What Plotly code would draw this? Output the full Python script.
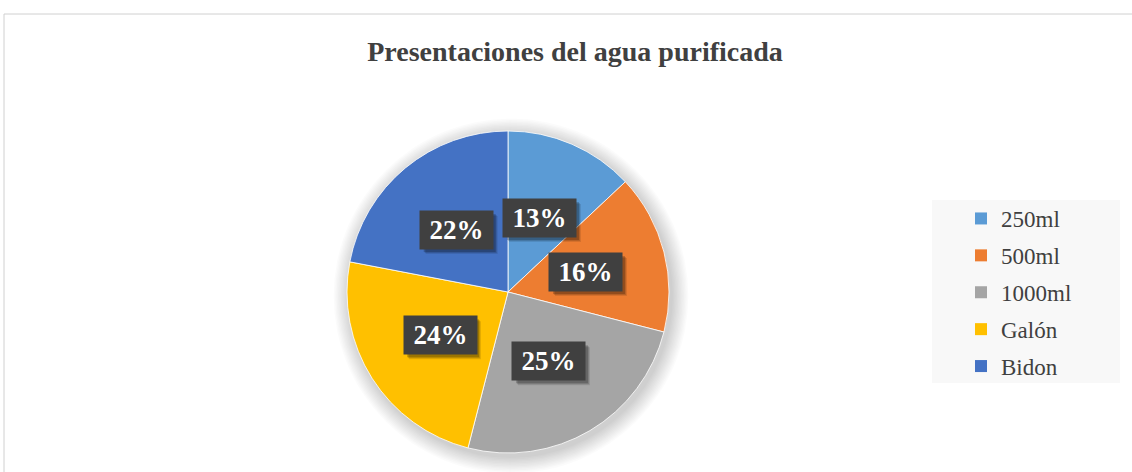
import math
import plotly.graph_objects as go

categories = ["250ml", "500ml", "1000ml", "Galón", "Bidon"]
values = [13, 16, 25, 24, 22]
colors = ["#5B9BD5", "#ED7D31", "#A5A5A5", "#FFC000", "#4472C4"]
title_text = "Presentaciones del agua purificada"

W, H = 1132, 472
CX, CY, R = 508, 292, 161  # pie centre / radius in pixels
SERIF = "Liberation Serif, Times New Roman, serif"
BOX_W, BOX_H = 72, 38       # label box size (style)

fig = go.Figure()
fig.add_trace(go.Pie(
    labels=categories, values=values, sort=False, direction="clockwise",
    rotation=0, textinfo="none", hoverinfo="label+percent", showlegend=False,
    marker=dict(colors=colors, line=dict(color="white", width=0.8)),
    domain=dict(x=[(CX - R) / W, (CX + R) / W], y=[(H - CY - R) / H, (H - CY + R) / H]),
))
# legend entries (one group per category, to get the reference's row spacing)
for cat, col in zip(categories, colors):
    fig.add_trace(go.Scatter(x=[None], y=[None], mode="markers", name=cat, legendgroup=cat,
                             marker=dict(symbol="square", size=12, color=col), hoverinfo="skip"))

shapes = []
shapes.append(dict(type="rect", xref="paper", yref="paper", x0=4 / W, x1=1.01, y0=-0.01, y1=1 - 14 / H,
                   line=dict(color="#D0D0D0", width=1), fillcolor="rgba(0,0,0,0)", layer="below"))
for i in range(12):
    rr = R + 1 + i * 1.4
    shapes.append(dict(type="circle", xref="paper", yref="paper",
                       x0=(CX + 3 - rr) / W, x1=(CX + 3 + rr) / W,
                       y0=1 - (CY + 4 + rr) / H, y1=1 - (CY + 4 - rr) / H,
                       fillcolor="rgba(0,0,0,0.016)", line=dict(width=0), layer="below"))
shapes.append(dict(type="rect", xref="paper", yref="paper", x0=932 / W, x1=1120 / W,
                   y0=1 - 383 / H, y1=1 - 200 / H, fillcolor="#F8F8F8", line=dict(width=0), layer="below"))

annotations = []
total = sum(values)
cum = 0
label_specs = []
for v in values:
    mid = (cum + v / 2) / total
    cum += v
    th = 2 * math.pi * mid
    px = CX + 0.5 * R * math.sin(th)
    py = CY - 0.5 * R * math.cos(th)
    label_specs.append((px, py, f"{round(100 * v / total)}%"))

# soft drop shadows behind label boxes
for px, py, t in label_specs:
    for k, a in ((5, 0.10), (4, 0.14), (3, 0.2)):
        shapes.append(dict(type="rect", xref="paper", yref="paper", layer="above",
                           x0=(px + k - BOX_W / 2) / W, x1=(px + k + BOX_W / 2) / W,
                           y0=1 - (py + k + BOX_H / 2) / H, y1=1 - (py + k - BOX_H / 2) / H,
                           fillcolor=f"rgba(0,0,0,{a})", line=dict(width=0)))

pad = "&#8201;"
for px, py, t in label_specs:
    annotations.append(dict(x=px / W, y=1 - py / H, xref="paper", yref="paper",
                            xanchor="center", yanchor="middle",
                            text=f"<b>{pad}{t}{pad}</b>", showarrow=False,
                            font=dict(family=SERIF, size=27, color="white"),
                            bgcolor="#404040", borderpad=4))

fig.update_layout(
    width=W, height=H, margin=dict(l=0, r=0, t=0, b=0),
    paper_bgcolor="white", plot_bgcolor="white",
    xaxis=dict(visible=False), yaxis=dict(visible=False),
    title=dict(text=f"<b>{title_text}</b>", x=575 / W, xanchor="center", y=1 - 51 / H, yanchor="middle",
               yref="container", font=dict(family=SERIF, size=28, color="#404040")),
    showlegend=True,
    legend=dict(x=961 / W, y=1 - 197 / H, xanchor="left", yanchor="top",
                bgcolor="rgba(0,0,0,0)", font=dict(family=SERIF, size=23, color="#404040"),
                traceorder="grouped", tracegroupgap=4, itemclick=False, itemdoubleclick=False),
    shapes=shapes, annotations=annotations,
)
fig.write_html("out.html", config={"displayModeBar": False},
               post_script="document.body.style.margin='0';document.body.style.overflow='hidden';")
